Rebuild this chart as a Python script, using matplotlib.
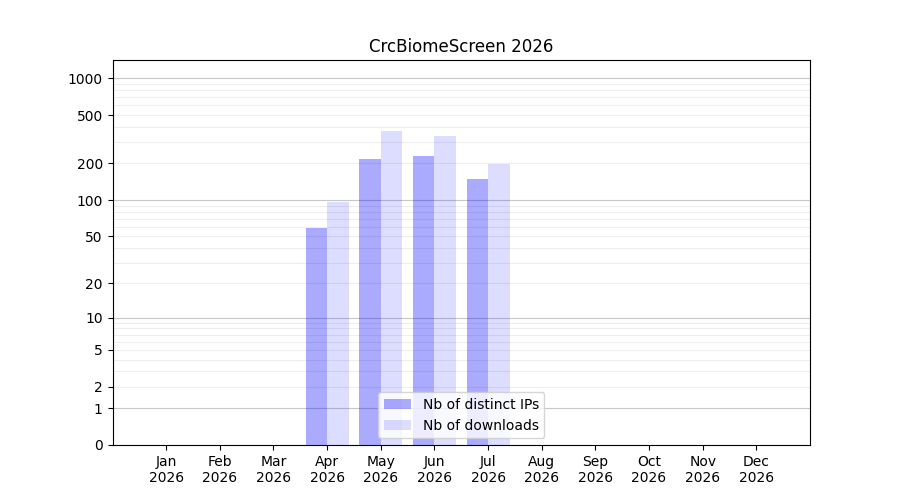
import matplotlib
matplotlib.use("Agg")
import matplotlib.pyplot as plt
import numpy as np

months = ["Jan", "Feb", "Mar", "Apr", "May", "Jun", "Jul", "Aug", "Sep", "Oct", "Nov", "Dec"]
year = 2026
distinct_ips = [0, 0, 0, 59, 218, 231, 149, 0, 0, 0, 0, 0]
downloads = [0, 0, 0, 96, 370, 337, 198, 0, 0, 0, 0, 0]
ytick_values = [0, 1, 2, 5, 10, 20, 50, 100, 200, 500, 1000]


def fwd(v):
    return np.log10(np.asarray(v, dtype=float) + 1)


def inv(v):
    return 10 ** np.asarray(v, dtype=float) - 1


fig, ax = plt.subplots(figsize=(9, 5), dpi=100)
ax.set_yscale("function", functions=(fwd, inv))

x = np.arange(len(months))
w = 0.4
ax.bar(x - w / 2, distinct_ips, w, color="blue", alpha=1 / 3, lw=0,
       label="Nb of distinct IPs", zorder=2)
ax.bar(x + w / 2, downloads, w, color="blue", alpha=0.135, lw=0,
       label="Nb of downloads", zorder=2)

# grid: decades darker, the rest lighter
for d in [1, 10, 100, 1000]:
    ax.axhline(d, color="#c8c8c8", lw=0.8, zorder=1)
for d in [1, 10, 100]:
    for m in range(2, 10):
        ax.axhline(d * m, color="#eeeeee", lw=0.8, zorder=1)

ax.set_yticks(ytick_values)
ax.set_yticklabels([str(v) for v in ytick_values])
ax.yaxis.set_minor_locator(matplotlib.ticker.NullLocator())
ax.set_ylim(0, inv(3.15))

ax.set_xticks(x)
ax.set_xticklabels([f"{m}\n{year}" for m in months])
ax.set_xlim(-1, 12)

ax.set_title(f"CrcBiomeScreen {year}")
ax.legend(loc="lower center")

fig.savefig("out.png")
